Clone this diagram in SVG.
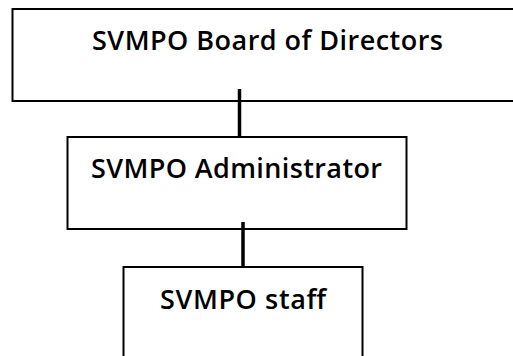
<svg xmlns="http://www.w3.org/2000/svg" width="513" height="356" viewBox="0 0 513 356">
<style>
.box{fill:#fff;stroke:#000;stroke-width:2}
.lbl{font-family:"Open Sans","Noto Sans",sans-serif;font-weight:600;font-size:27px;fill:#000;text-anchor:middle}
.conn{stroke:#000;stroke-width:3.5;fill:none}
</style>
<rect width="513" height="356" fill="#fff"/>
<g id="board">
<rect class="box" x="12.5" y="9" width="510" height="92"/>
<text class="lbl" x="267.5" y="50" textLength="351" lengthAdjust="spacing">SVMPO Board of Directors</text>
</g>
<g id="admin">
<rect class="box" x="67.5" y="137" width="339" height="92"/>
<text class="lbl" x="236.5" y="178" textLength="291" lengthAdjust="spacing">SVMPO Administrator</text>
</g>
<g id="staff">
<rect class="box" x="123.5" y="267" width="239" height="100"/>
<text class="lbl" x="243" y="309" textLength="166" lengthAdjust="spacing">SVMPO staff</text>
</g>
<g id="connectors">
<line class="conn" x1="239.5" y1="89" x2="239.5" y2="137"/>
<line class="conn" x1="243" y1="222" x2="243" y2="267"/>
</g>
</svg>
